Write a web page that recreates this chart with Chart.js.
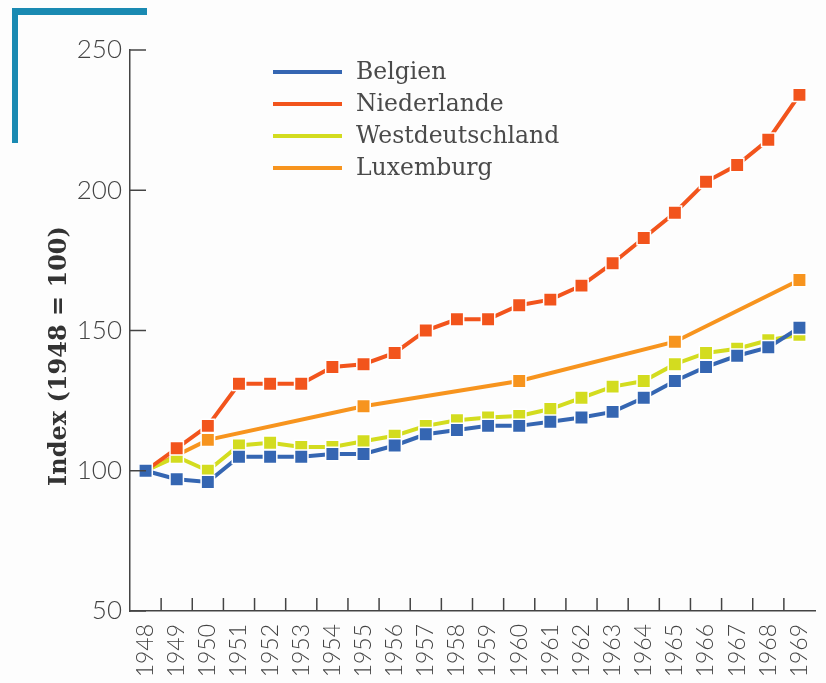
<!DOCTYPE html>
<html>
<head>
<meta charset="utf-8">
<script src="https://cdn.jsdelivr.net/npm/chart.js@4.4.0/dist/chart.umd.min.js"></script>
<style>
html, body { margin: 0; padding: 0; background: #fdfdfd; }
#wrap { position: relative; width: 826px; height: 683px; }
#corner { position: absolute; left: 12px; top: 8px; width: 135px; height: 135px;
  border-left: 6px solid #1a8ab2; border-top: 7px solid #1a8ab2; box-sizing: border-box; }
canvas { position: absolute; left: 0; top: 0; }
</style>
</head>
<body>
<div id="wrap">
  <div id="corner"></div>
  <canvas id="myChart" width="826" height="683"></canvas>
</div>
<script>
var years = ['1948','1949','1950','1951','1952','1953','1954','1955','1956','1957','1958',
             '1959','1960','1961','1962','1963','1964','1965','1966','1967','1968','1969'];

var belgien = [100, 97, 96, 105, 105, 105, 106, 106, 109, 113, 114.5,
               116, 116, 117.5, 119, 121, 126, 132, 137, 141, 144, 151];
var niederlande = [100, 108, 116, 131, 131, 131, 137, 138, 142, 150, 154,
                   154, 159, 161, 166, 174, 183, 192, 203, 209, 218, 234];
var westdeutschland = [100, 105, 100, 109, 110, 108.5, 108.5, 110.5, 112.5, 116, 118,
                       119, 119.5, 122, 126, 130, 132, 138, 142, 143.5, 146.5, 148.5];
var luxemburg = [100, null, 111, null, null, null, null, 123, null, null, null,
                 null, 132, null, null, null, null, 146, null, null, null, 168];

var yTicks = [50, 100, 150, 200, 250];
var axisTitle = 'Index (1948 = 100)';

var colors = {
    belgien: '#3566b2',
    niederlande: '#f2541c',
    westdeutschland: '#d3dc1f',
    luxemburg: '#f7941e'
};

function series(label, data, color) {
    return {
        label: label,
        data: data,
        borderColor: color,
        backgroundColor: color,
        borderWidth: 4,
        tension: 0,
        spanGaps: true,
        pointStyle: 'rect',
        pointRadius: 9.5,
        pointBackgroundColor: color,
        pointBorderColor: '#ffffff',
        pointBorderWidth: 1.5
    };
}

// legend, inward tick marks and rotated axis title
var extras = {
    id: 'extras',
    afterDraw: function (chart) {
        var ctx = chart.ctx;
        var area = chart.chartArea;
        var x = chart.scales.x, y = chart.scales.y;
        ctx.save();
        ctx.strokeStyle = '#444';
        ctx.lineWidth = 1.5;
        yTicks.forEach(function (v) {
            var py = y.getPixelForValue(v);
            ctx.beginPath();
            ctx.moveTo(area.left, py);
            ctx.lineTo(area.left + 16, py);
            ctx.stroke();
        });
        for (var i = 1; i < years.length; i++) {
            var px = (x.getPixelForValue(i - 1) + x.getPixelForValue(i)) / 2;
            ctx.beginPath();
            ctx.moveTo(px, area.bottom);
            ctx.lineTo(px, area.bottom - 13);
            ctx.stroke();
        }

        // y axis title
        ctx.save();
        ctx.translate(60, 356);
        ctx.rotate(-Math.PI / 2);
        ctx.fillStyle = '#333';
        ctx.font = 'bold 24px "DejaVu Serif"';
        ctx.textAlign = 'center';
        ctx.textBaseline = 'middle';
        ctx.fillText(axisTitle, 0, 0);
        ctx.restore();

        // legend
        ctx.font = '23.5px "DejaVu Serif"';
        ctx.textBaseline = 'middle';
        ctx.textAlign = 'left';
        chart.data.datasets.forEach(function (ds, k) {
            var ly = 72 + k * 32;
            ctx.strokeStyle = ds.borderColor;
            ctx.lineWidth = 4;
            ctx.beginPath();
            ctx.moveTo(273, ly);
            ctx.lineTo(342, ly);
            ctx.stroke();
            ctx.fillStyle = '#4a4a4a';
            ctx.fillText(ds.label, 356, ly + 1);
        });
        ctx.restore();
    }
};

function init() {
    var ctx = document.getElementById('myChart');
    var myChart = new Chart(ctx, {
        type: 'line',
        data: {
            labels: years,
            datasets: [
                series('Belgien', belgien, colors.belgien),
                series('Niederlande', niederlande, colors.niederlande),
                series('Westdeutschland', westdeutschland, colors.westdeutschland),
                series('Luxemburg', luxemburg, colors.luxemburg)
            ]
        },
        options: {
            responsive: false,
            animation: false,
            events: [],
            layout: { padding: { top: 50, right: 5, left: 0, bottom: 0 } },
            plugins: {
                legend: { display: false },
                tooltip: { enabled: false }
            },
            scales: {
                x: {
                    offset: true,
                    grid: { display: false, drawTicks: false },
                    border: { display: true, color: '#444', width: 1.5 },
                    ticks: {
                        autoSkip: false,
                        minRotation: 90,
                        maxRotation: 90,
                        padding: 13,
                        color: '#444',
                        font: { family: 'Lato', size: 23, weight: 300 }
                    },
                    afterFit: function (scale) {
                        scale.height = 72;
                        scale.paddingLeft = 0;
                        scale.paddingRight = 0;
                    }
                },
                y: {
                    min: 50,
                    max: 250,
                    grid: { display: false, drawTicks: false },
                    border: { display: true, color: '#444', width: 1.5 },
                    ticks: {
                        stepSize: 50,
                        padding: 8,
                        color: '#444',
                        font: { family: 'Lato', size: 26, weight: 300 }
                    },
                    afterFit: function (scale) { scale.width = 130; }
                }
            }
        },
        plugins: [extras]
    });
}

Promise.all([
    document.fonts.load('300 24px Lato'),
    document.fonts.load('24px "DejaVu Serif"'),
    document.fonts.load('bold 24px "DejaVu Serif"')
]).then(init, init);
</script>
</body>
</html>
